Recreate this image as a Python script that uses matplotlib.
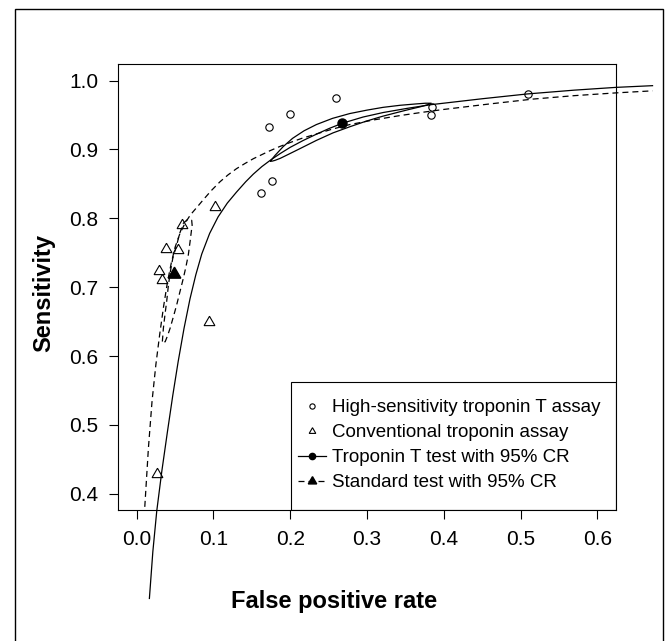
import numpy as np
import matplotlib
matplotlib.use('Agg')
import matplotlib.pyplot as plt
from matplotlib.lines import Line2D
from matplotlib.patches import Rectangle

plt.rcParams['font.family'] = ['Liberation Sans', 'DejaVu Sans']

# study estimates (false positive rate, sensitivity)
hs_fpr = [0.172, 0.200, 0.260, 0.162, 0.176, 0.385, 0.384, 0.510]
hs_sens = [0.933, 0.951, 0.974, 0.837, 0.854, 0.962, 0.950, 0.980]

conv_fpr = [0.102, 0.0586, 0.0382, 0.0543, 0.0296, 0.0326, 0.0937, 0.0266]
conv_sens = [0.817, 0.790, 0.755, 0.754, 0.724, 0.711, 0.650, 0.428]

# summary points
tnt_fpr, tnt_sens = [0.268], [0.938]
std_fpr, std_sens = [0.049], [0.719]

# SROC curves
tnt_sroc_fpr = [0.0165, 0.021, 0.0261, 0.0326, 0.040, 0.047, 0.054, 0.0616, 0.0694,
                0.077, 0.0847, 0.095, 0.106, 0.118, 0.130, 0.142, 0.1518, 0.163,
                0.175, 0.187, 0.200, 0.217, 0.234, 0.251, 0.268, 0.295, 0.321,
                0.352, 0.384, 0.450, 0.509, 0.570, 0.624, 0.672]
tnt_sroc_sens = [0.248, 0.316, 0.375, 0.432, 0.490, 0.543, 0.592, 0.640, 0.683,
                 0.718, 0.748, 0.778, 0.802, 0.822, 0.838, 0.853, 0.864, 0.875,
                 0.885, 0.894, 0.903, 0.913, 0.922, 0.9305, 0.938, 0.947, 0.9535,
                 0.9595, 0.965, 0.9735, 0.9805, 0.986, 0.990, 0.9925]

std_sroc_fpr = [0.0105, 0.0152, 0.020, 0.025, 0.030, 0.035, 0.040, 0.045, 0.050, 0.056,
                0.063, 0.070, 0.080, 0.0868, 0.097, 0.1085, 0.119, 0.130, 0.141, 0.152,
                0.1735, 0.186, 0.200, 0.215, 0.230, 0.2535, 0.2775, 0.310, 0.3425,
                0.370, 0.400, 0.460, 0.516, 0.570, 0.624, 0.672]
std_sroc_sens = [0.381, 0.466, 0.535, 0.588, 0.632, 0.672, 0.707, 0.735, 0.758, 0.777,
                 0.793, 0.805, 0.818, 0.827, 0.840, 0.853, 0.863, 0.872, 0.8795, 0.8865,
                 0.898, 0.904, 0.910, 0.916, 0.921, 0.929, 0.936, 0.943, 0.949,
                 0.9535, 0.958, 0.966, 0.973, 0.978, 0.982, 0.985]

# 95% confidence regions
tnt_cr_fpr = [0.1744, 0.180, 0.1908, 0.203, 0.218, 0.234, 0.255, 0.2775, 0.300, 0.3208,
              0.343, 0.364, 0.376, 0.3837, 0.380, 0.370, 0.355, 0.3425, 0.320, 0.299,
              0.278, 0.2558, 0.234, 0.2125, 0.198, 0.187, 0.180, 0.176, 0.1744]
tnt_cr_sens = [0.8833, 0.891, 0.904, 0.916, 0.927, 0.936, 0.945, 0.952, 0.957, 0.961,
               0.964, 0.966, 0.967, 0.967, 0.9652, 0.962, 0.958, 0.9545, 0.948, 0.941,
               0.933, 0.924, 0.913, 0.901, 0.893, 0.887, 0.884, 0.8828, 0.8833]

std_cr_fpr = [0.0334, 0.0347, 0.037, 0.039, 0.041, 0.0434, 0.047, 0.052, 0.056, 0.0607,
              0.066, 0.0716, 0.0722, 0.0716, 0.0695, 0.0672, 0.064, 0.0607, 0.056, 0.052,
              0.0475, 0.0434, 0.040, 0.037, 0.0334]
std_cr_sens = [0.621, 0.640, 0.662, 0.679, 0.700, 0.720, 0.742, 0.761, 0.778, 0.7927,
               0.798, 0.797, 0.790, 0.785, 0.766, 0.7467, 0.729, 0.7128, 0.692, 0.674,
               0.656, 0.640, 0.629, 0.6206, 0.621]

legend_labels = ['High-sensitivity troponin T assay', 'Conventional troponin assay',
                 'Troponin T test with 95% CR', 'Standard test with 95% CR']

dash = (4.8, 3.2)
lw = 0.9
tri = (3, 0, 0)

fig = plt.figure(figsize=(6.68, 6.41), dpi=100)
ax = fig.add_axes([0.1771, 0.2039, 0.9217 - 0.1771, 0.9002 - 0.2039])

ax.plot(tnt_sroc_fpr, tnt_sroc_sens, color='black', lw=lw, clip_on=False)
ax.plot(tnt_cr_fpr, tnt_cr_sens, color='black', lw=lw, clip_on=False)
ax.plot(std_sroc_fpr, std_sroc_sens, color='black', lw=lw, dashes=dash, clip_on=False)
ax.plot(std_cr_fpr, std_cr_sens, color='black', lw=lw, dashes=dash, clip_on=False)

ax.plot(hs_fpr, hs_sens, 'o', ms=5.3, mfc='none', mec='black', mew=0.8, clip_on=False)
ax.plot(conv_fpr, conv_sens, marker=tri, ls='none', ms=9, mfc='none', mec='black',
        mew=0.8, clip_on=False)
ax.plot(tnt_fpr, tnt_sens, 'o', ms=6.5, color='black')
ax.plot(std_fpr, std_sens, marker=tri, ls='none', ms=10.5, color='black')

ax.set_xlim(-0.024, 0.624)
ax.set_ylim(0.376, 1.024)
ax.set_xticks(np.arange(0, 0.61, 0.1))
ax.set_xticklabels(['%.1f' % v for v in np.arange(0, 0.61, 0.1)])
ax.set_yticks(np.arange(0.4, 1.01, 0.1))
ax.set_yticklabels(['%.1f' % v for v in np.arange(0.4, 1.01, 0.1)])
ax.tick_params(direction='out', length=6.5, width=0.8, labelsize=15, pad=8)
for s in ax.spines.values():
    s.set_linewidth(0.8)

ax.set_xlabel('False positive rate', fontsize=17, fontweight='bold')
ax.set_ylabel('Sensitivity', fontsize=17, fontweight='bold')
ax.xaxis.set_label_coords(0.433, -0.179)
ax.yaxis.set_label_coords(-0.126, 0.486)

# legend box and entries
ax.add_patch(Rectangle((0.3466, 0), 1 - 0.3466, 0.287, transform=ax.transAxes,
                       fill=False, lw=0.8, ec='black', zorder=5))
handles = [
    Line2D([], [], ls='none', marker='o', ms=3.8, mfc='none', mec='black', mew=0.8),
    Line2D([], [], ls='none', marker=tri, ms=5.5, mfc='none', mec='black', mew=0.8),
    Line2D([], [], color='black', lw=lw, marker='o', ms=4.5),
    Line2D([], [], color='black', lw=lw, dashes=dash, marker=tri, ms=7),
]
ax.legend(handles, legend_labels, loc='center left', bbox_to_anchor=(0.3607, 0.1463),
          frameon=False, fontsize=13.5, borderpad=0, handlelength=1.49,
          handletextpad=0.36, labelspacing=0.42, borderaxespad=0)

# outer frame
fig.add_artist(Rectangle((15 / 668, -0.05), (663 - 15) / 668, 0.05 + 1 - 9 / 641,
                         transform=fig.transFigure, fill=False, lw=1.0, ec='black'))

fig.savefig('out.png', dpi=100)
